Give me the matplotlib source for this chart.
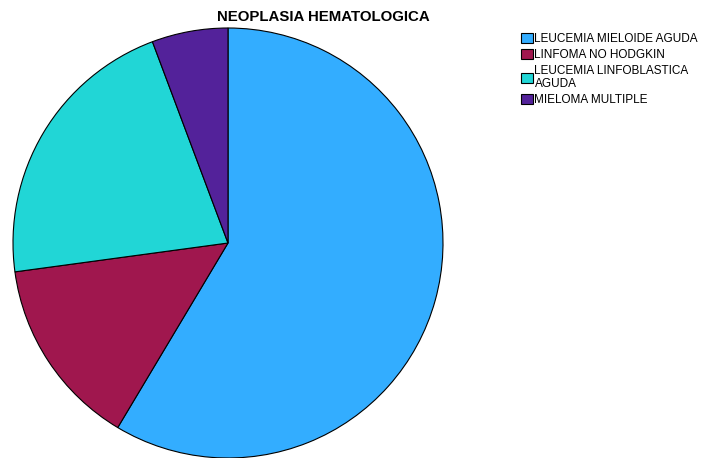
import matplotlib.pyplot as plt

plt.rcParams['font.family'] = ['Liberation Sans', 'DejaVu Sans']

# casos por tipo de neoplasia
categorias = ['LEUCEMIA MIELOIDE AGUDA', 'LINFOMA NO HODGKIN',
              'LEUCEMIA LINFOBLASTICA\nAGUDA', 'MIELOMA MULTIPLE']
casos = [41, 10, 15, 4]
colores = ['#33adff', '#a0174e', '#21d6d6', '#53229a']

fig = plt.figure(figsize=(7.06, 4.58), dpi=100)
ax = fig.add_axes([13/706, 0, 430/706, 430/458])
wedges, _ = ax.pie(casos, colors=colores, startangle=90, counterclock=False,
                   wedgeprops=dict(edgecolor='black', linewidth=0.8))
ax.set_xlim(-1.0, 1.0)
ax.set_ylim(-1.0, 1.0)
ax.set_aspect('equal')

fig.text(323/706, 1 - 17/458, 'NEOPLASIA HEMATOLOGICA', ha='center', va='center',
         fontsize=10.8, fontweight='bold')

leg = fig.legend(wedges, categorias, loc='upper left',
                 bbox_to_anchor=(513/706, 1 - 25/458), frameon=False,
                 fontsize=8.5, handlelength=1.0, handleheight=0.95,
                 handletextpad=0.12, labelspacing=0.3, borderpad=0.2)

fig.savefig('out.png', dpi=100)
